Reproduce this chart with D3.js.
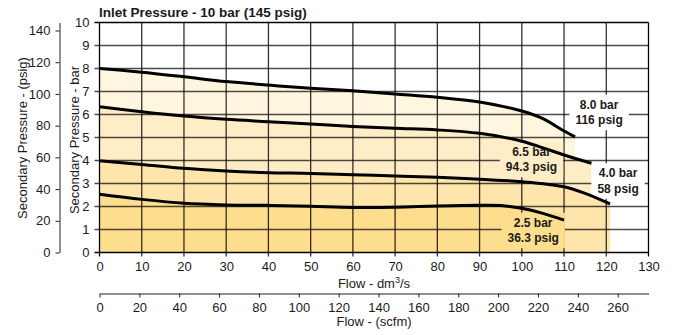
<!DOCTYPE html>
<html lang="en">
<head>
  <meta charset="UTF-8">
  <title>Inlet Pressure - 10 bar (145 psig)</title>
  <script src="https://d3js.org/d3.v7.min.js"></script>
  <style>
    body { margin: 0; background: #fff; font-family: "Liberation Sans", Arial, sans-serif; }
    svg text { fill: #1a1a1a; }
    .axis text { font-size: 13px; font-family: "Liberation Sans", Arial, sans-serif; }
    .axis path, .axis line { stroke: #222; }
  </style>
</head>
<body>
  <div id="chart"></div>

  <script>
    // curves: [flow dm3/s, secondary pressure bar]
    const curve80 = [[0, 8.0], [10, 7.84], [20, 7.64], [30, 7.43], [40, 7.28], [50, 7.14], [60, 7.03],
                     [70, 6.89], [80, 6.75], [90, 6.54], [100, 6.15], [105, 5.82], [110, 5.28], [112.6, 5.03]];
    const curve65 = [[0, 6.34], [10, 6.12], [20, 5.93], [30, 5.79], [40, 5.69], [50, 5.59], [60, 5.48],
                     [70, 5.4], [80, 5.33], [90, 5.18], [100, 4.84], [105, 4.55], [110, 4.24], [116.5, 3.88]];
    const curve40 = [[0, 3.99], [10, 3.83], [20, 3.66], [30, 3.54], [40, 3.47], [50, 3.44], [60, 3.38],
                     [70, 3.33], [80, 3.27], [90, 3.18], [100, 3.08], [110, 2.86], [115, 2.57], [120.9, 2.11]];
    const curve25 = [[0, 2.53], [10, 2.31], [20, 2.14], [30, 2.07], [40, 2.05], [50, 2.01], [60, 1.96],
                     [70, 1.97], [80, 2.02], [90, 2.05], [95, 2.04], [100, 1.92], [105, 1.7], [110, 1.41]];

    const seriesNames = ["8.0 bar", "6.5 bar", "4.0 bar", "2.5 bar"];
    const seriesPsig = ["116 psig", "94.3 psig", "58 psig", "36.3 psig"];
    // label anchor (flow, bar)
    const labelAt = [[118.3, 6.1], [102.3, 4.05], [122.8, 3.12], [102.7, 0.97]];

    const flowTicks = d3.range(0, 131, 10);
    const barTicks = d3.range(0, 11, 1);
    const psigTicks = d3.range(0, 141, 20);
    const scfmTicks = d3.range(0, 261, 20);

    const fills = ["#fff6df", "#ffedc7", "#fee5ab", "#fddd8e"];
    const curves = [curve80, curve65, curve40, curve25];

    const W = 673, H = 335;
    const svg = d3.select("#chart").append("svg")
      .attr("width", W).attr("height", H);

    const x = d3.scaleLinear().domain([0, 130]).range([99.5, 648.5]);
    const y = d3.scaleLinear().domain([0, 10]).range([252.5, 22.5]);
    const yPsig = d3.scaleLinear().domain([0, 10 * 14.5038]).range([252.5, 22.5]);
    const xScfm = d3.scaleLinear().domain([0, 130 * 2.11888]).range([99.5, 648.5]);

    const area = d3.area().x(d => x(d[0])).y0(y(0)).y1(d => y(d[1])).curve(d3.curveCatmullRom);
    const line = d3.line().x(d => x(d[0])).y(d => y(d[1])).curve(d3.curveCatmullRom);

    // filled areas, lightest first
    svg.selectAll(".fill").data(curves).enter().append("path")
      .attr("class", "fill")
      .attr("d", area)
      .attr("fill", (d, i) => fills[i]);

    // grid
    svg.append("g").selectAll("line").data(flowTicks).enter().append("line")
      .attr("x1", d => x(d)).attr("x2", d => x(d))
      .attr("y1", y(10)).attr("y2", y(0) + 4)
      .attr("stroke", "#000").attr("stroke-opacity", d => (d === 0 || d === 130) ? 1 : 0.8)
      .attr("stroke-width", 1.3);
    svg.append("g").selectAll("line").data(barTicks).enter().append("line")
      .attr("x1", x(0) - 5).attr("x2", x(130))
      .attr("y1", d => y(d)).attr("y2", d => y(d))
      .attr("stroke", "#000").attr("stroke-opacity", d => (d === 0 || d === 10) ? 1 : 0.7)
      .attr("stroke-width", 1.3);

    // which fill a point sits in
    function interp(c, f) {
      if (f < c[0][0] || f > c[c.length - 1][0]) return -Infinity;
      for (let k = 1; k < c.length; k++) {
        if (f <= c[k][0]) {
          const t = (f - c[k - 1][0]) / (c[k][0] - c[k - 1][0]);
          return c[k - 1][1] + t * (c[k][1] - c[k - 1][1]);
        }
      }
      return -Infinity;
    }
    function bgAt(f, b) {
      let col = "#fff";
      curves.forEach((c, i) => { if (interp(c, f) > b) col = fills[i]; });
      return col;
    }

    // label boxes sit under the curves, text on top
    const boxG = svg.append("g");
    const curveG = svg.append("g");
    const textG = svg.append("g");

    labelAt.forEach((p, i) => {
      const cx = x(p[0]), cy = y(p[1]);
      const t = textG.append("text")
        .attr("text-anchor", "middle")
        .style("font-size", "12px").style("font-weight", "bold");
      t.append("tspan").attr("x", cx).attr("y", cy - 3.5).text(seriesNames[i]);
      t.append("tspan").attr("x", cx).attr("y", cy + 12).text(seriesPsig[i]);
      const bb = t.node().getBBox();
      boxG.append("rect")
        .attr("x", bb.x - 6).attr("y", bb.y - 3)
        .attr("width", bb.width + 12).attr("height", bb.height + 6)
        .attr("fill", bgAt(p[0], p[1]));
    });

    curveG.selectAll("path").data(curves).enter().append("path")
      .attr("d", line)
      .attr("fill", "none")
      .attr("stroke", "#000")
      .attr("stroke-width", 3)
      .attr("stroke-linecap", "butt");

    // axes
    svg.append("g").attr("class", "axis")
      .attr("transform", `translate(${x(0)},0)`)
      .call(d3.axisLeft(y).tickValues(barTicks).tickSize(0).tickPadding(10))
      .call(g => g.select(".domain").remove());

    svg.append("g").attr("class", "axis")
      .attr("transform", `translate(0,${y(0)})`)
      .call(d3.axisBottom(x).tickValues(flowTicks).tickSize(0).tickPadding(9))
      .call(g => g.select(".domain").remove());

    svg.append("g").attr("class", "axis")
      .attr("transform", "translate(59.5,0)")
      .call(d3.axisLeft(yPsig).tickValues(psigTicks).tickSize(4).tickSizeOuter(0).tickPadding(5));

    svg.append("g").attr("class", "axis")
      .attr("transform", "translate(0,293.5)")
      .call(d3.axisBottom(xScfm).tickValues(scfmTicks).tickSize(4).tickSizeOuter(0).tickPadding(5))
      .call(g => g.selectAll("path, line").attr("stroke", "#555"));

    // titles
    svg.append("text")
      .attr("x", 99).attr("y", 17)
      .style("font-size", "13.5px").style("font-weight", "bold")
      .text("Inlet Pressure - 10 bar (145 psig)");

    const fx = svg.append("text")
      .attr("x", (x(0) + x(130)) / 2).attr("y", 288)
      .attr("text-anchor", "middle").style("font-size", "13px");
    fx.append("tspan").text("Flow - dm");
    fx.append("tspan").attr("dy", -5).style("font-size", "9px").text("3");
    fx.append("tspan").attr("dy", 5).text("/s");

    svg.append("text")
      .attr("x", (x(0) + x(130)) / 2).attr("y", 326)
      .attr("text-anchor", "middle").style("font-size", "13px")
      .text("Flow - (scfm)");

    svg.append("text")
      .attr("transform", "translate(22,138) rotate(-90)")
      .attr("text-anchor", "middle").attr("dy", "0.35em")
      .style("font-size", "13px")
      .text("Secondary Pressure - (psig)");

    svg.append("text")
      .attr("transform", "translate(74,140) rotate(-90)")
      .attr("text-anchor", "middle").attr("dy", "0.35em")
      .style("font-size", "13px")
      .text("Secondary Pressure - bar");
  </script>
</body>
</html>
